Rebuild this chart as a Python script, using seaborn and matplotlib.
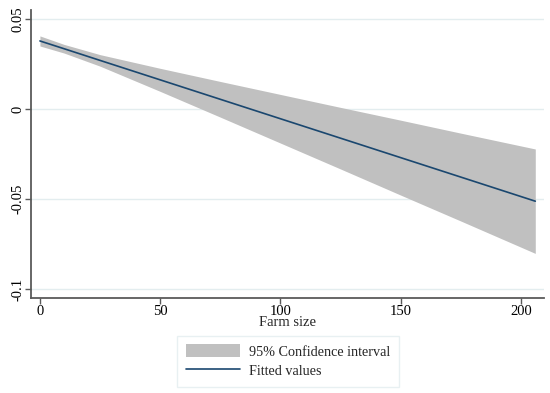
import numpy as np
import pandas as pd
import matplotlib
matplotlib.use("Agg")
import matplotlib.pyplot as plt
import seaborn as sns
from matplotlib.patches import Patch
from matplotlib.lines import Line2D

# Valores
farm_size = [0, 10, 25, 50, 75, 100, 125, 150, 175, 206]
fitted = [0.0378, 0.0335, 0.0270, 0.0162, 0.0054, -0.0054, -0.0162, -0.0270, -0.0378, -0.0512]
ci_upper = [0.0406, 0.0359, 0.0302, 0.0226, 0.0153, 0.0081, 0.0009, -0.0062, -0.0134, -0.0222]
ci_lower = [0.0350, 0.0311, 0.0238, 0.0098, -0.0045, -0.0189, -0.0333, -0.0478, -0.0622, -0.0802]
y_ticks = [-0.1, -0.05, 0, 0.05]
y_labels = ["-0.1", "-0.05", "0", "0.05"]
x_ticks = [0, 50, 100, 150, 200]

df = pd.DataFrame({"farm_size": farm_size, "fitted": fitted,
                   "upper": ci_upper, "lower": ci_lower})

sns.set_style("white")
plt.rcParams["font.family"] = ["Liberation Serif", "DejaVu Serif"]

band_color = "#c0c0c0"
line_color = "#1a476f"
axis_color = "#5a5a5a"
grid_color = "#e3edef"

fig = plt.figure(figsize=(5.5, 3.93), dpi=100)
ax = fig.add_axes([0.0564, 0.2425, 0.9326, 0.7321])

for yt in y_ticks:
    ax.axhline(yt, color=grid_color, lw=1.0, zorder=0)

ax.fill_between(df["farm_size"], df["lower"], df["upper"], color=band_color,
                lw=0, zorder=1)
sns.lineplot(data=df, x="farm_size", y="fitted", ax=ax, color=line_color,
             lw=1.2, zorder=2)

ax.set_xlim(-3.7, 209.6)
ax.set_ylim(-0.1048, 0.055)
ax.set_xticks(x_ticks)
ax.set_xticklabels([str(t) for t in x_ticks])
ax.set_yticks(y_ticks)
ax.set_yticklabels(y_labels, rotation=90, va="center")
ax.set_xlabel("Farm size", fontsize=10.5, labelpad=-1)
ax.set_ylabel("")

for s in ["top", "right"]:
    ax.spines[s].set_visible(False)
for s in ["left", "bottom"]:
    ax.spines[s].set_color(axis_color)
    ax.spines[s].set_linewidth(1.3)
ax.tick_params(axis="both", colors=axis_color, labelcolor="black", length=4,
               width=1, labelsize=10.5, direction="out", pad=1,
               bottom=True, left=True)

handles = [Patch(facecolor=band_color, edgecolor="none"),
           Line2D([0], [0], color=line_color, lw=1.2)]
leg = fig.legend(handles, ["95% Confidence interval", "Fitted values"],
                 loc="center", bbox_to_anchor=(0.524, 0.081), fontsize=10.2,
                 frameon=True, fancybox=False, handlelength=3.8,
                 handleheight=1.05, labelspacing=0.35, borderpad=0.6,
                 handletextpad=0.7)
leg.get_frame().set_edgecolor(grid_color)
leg.get_frame().set_linewidth(1.0)

fig.savefig("out.png", dpi=100)
